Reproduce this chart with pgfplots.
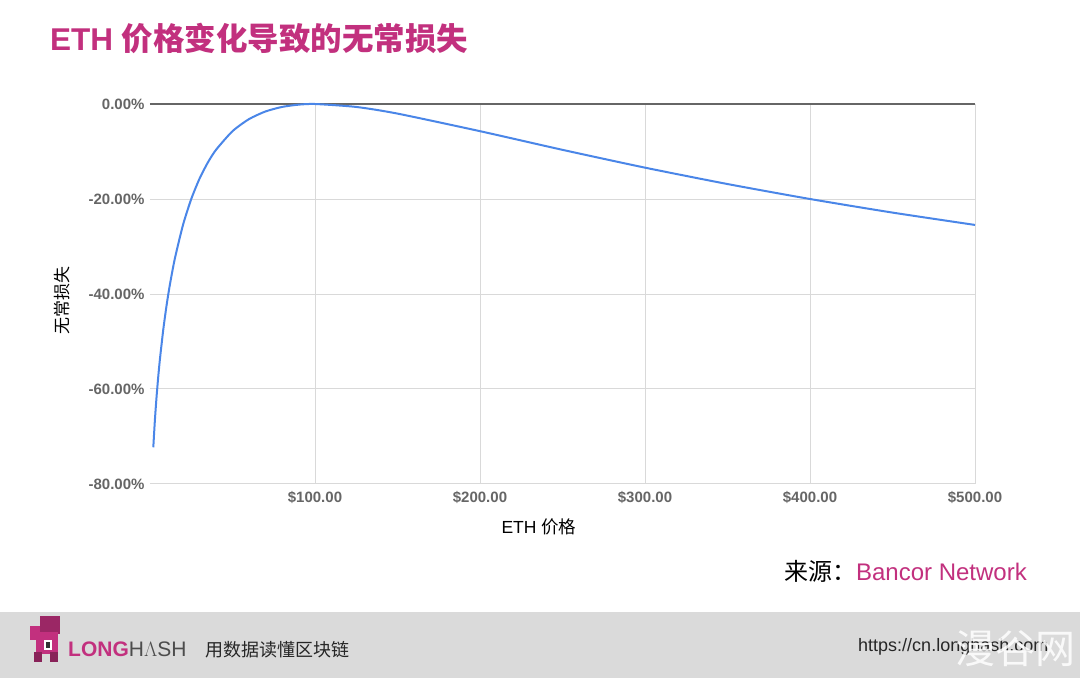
\documentclass[border=0pt]{standalone}
\usepackage{fontspec}
\setmainfont{Liberation Sans}
\newfontfamily\cjk{Noto Sans CJK SC}
\usepackage{pgfplots}
\pgfplotsset{compat=1.18}
\definecolor{mag}{HTML}{C2307E}
\definecolor{footgray}{HTML}{DADADA}
\definecolor{gsblue}{HTML}{4A86E8}
\begin{document}
\begin{tikzpicture}
\useasboundingbox (0pt,0pt) rectangle (1080pt,678pt);
\fill[white] (0pt,0pt) rectangle (1080pt,678pt);
\fill[footgray] (0pt,0pt) rectangle (1080pt,66pt);
% title
\node[anchor=base west, inner sep=0, text=mag] at (50pt,627pt) {\fontsize{31.5}{31.5}\selectfont\bfseries ETH {\cjk\bfseries 价格变化导致的无常损失}};
\begin{axis}[
  at={(150pt,194pt)}, anchor=south west,
  width=825pt, height=380pt, scale only axis,
  xmin=0, xmax=500, ymin=-80, ymax=0,
  axis line style={draw=none},
  xtick={100,200,300,400,500},
  xticklabels={\$100.00,\$200.00,\$300.00,\$400.00,\$500.00},
  ytick={-80,-60,-40,-20,0},
  yticklabels={-80.00\%,-60.00\%,-40.00\%,-20.00\%,0.00\%},
  major tick length=0pt,
  xmajorgrids, ymajorgrids,
  grid style={black!15, line width=1pt},
  ticklabel style={font=\fontsize{15}{15}\selectfont\bfseries, text=black!60},
  yticklabel style={anchor=east, xshift=-2pt},
  xticklabel style={anchor=north, yshift=-4pt},
  clip=false,
]
\draw[black!60, line width=1.3pt] (axis cs:0,0) -- (axis cs:500,0);
\addplot[gsblue, line width=2pt, smooth, tension=0.4] coordinates {
(2,-72.27) (3,-66.37) (4,-61.54) (5,-57.41) (6,-53.78) (8,-47.62) (10,-42.50)
(12,-38.14) (15,-32.64) (20,-25.46) (25,-20.00) (30,-15.73) (35,-12.35)
(40,-9.65) (50,-5.72) (60,-3.18) (70,-1.57) (80,-0.62) (90,-0.14) (100,0)
(125,-0.62) (150,-2.02) (200,-5.72) (250,-9.65) (300,-13.40) (350,-16.85)
(400,-20.00) (450,-22.86) (500,-25.46)};
\end{axis}
% axis labels
\node[anchor=center] at (539pt,151pt) {\fontsize{17.5}{17.5}\selectfont ETH {\cjk 价格}};
\node[anchor=center, rotate=90] at (62pt,377pt) {\cjk\fontsize{17}{17}\selectfont 无常损失};
% source
\node[anchor=base east, inner sep=0] at (1027pt,97pt) {\fontsize{24}{24}\selectfont{\cjk 来源：}\textcolor{mag}{Bancor Network}};
% footer logo
\fill[mag] (30pt,38pt) rectangle (44pt,52pt);
\fill[mag!80!black] (40pt,44pt) rectangle (60pt,62pt);
\fill[mag] (36pt,24pt) rectangle (58pt,46pt);
\fill[mag!70!black] (34pt,16pt) rectangle (42pt,26pt);
\fill[mag!70!black] (50pt,16pt) rectangle (58pt,26pt);
\fill[white] (44pt,28pt) rectangle (52pt,38pt);
\fill[black!80] (46pt,30pt) rectangle (50pt,36pt);
\node[anchor=base west, inner sep=0] at (68pt,21pt) {\fontsize{21}{21}\selectfont\textcolor{mag}{\textbf{LONG}}\textcolor{black!70}{H$\Lambda$SH}};
\node[anchor=base west, inner sep=0] at (205pt,21pt) {\cjk\fontsize{18}{18}\selectfont\textcolor{black!85}{用数据读懂区块链}};
\node[anchor=base west, inner sep=0] at (858pt,26pt) {\fontsize{18}{18}\selectfont\textcolor{black!85}{https://cn.longhash.com}};
\node[anchor=base west, inner sep=0, text=white, opacity=0.85] at (955pt,14pt) {\cjk\fontsize{40}{40}\selectfont 漫谷网};
\end{tikzpicture}
\end{document}
